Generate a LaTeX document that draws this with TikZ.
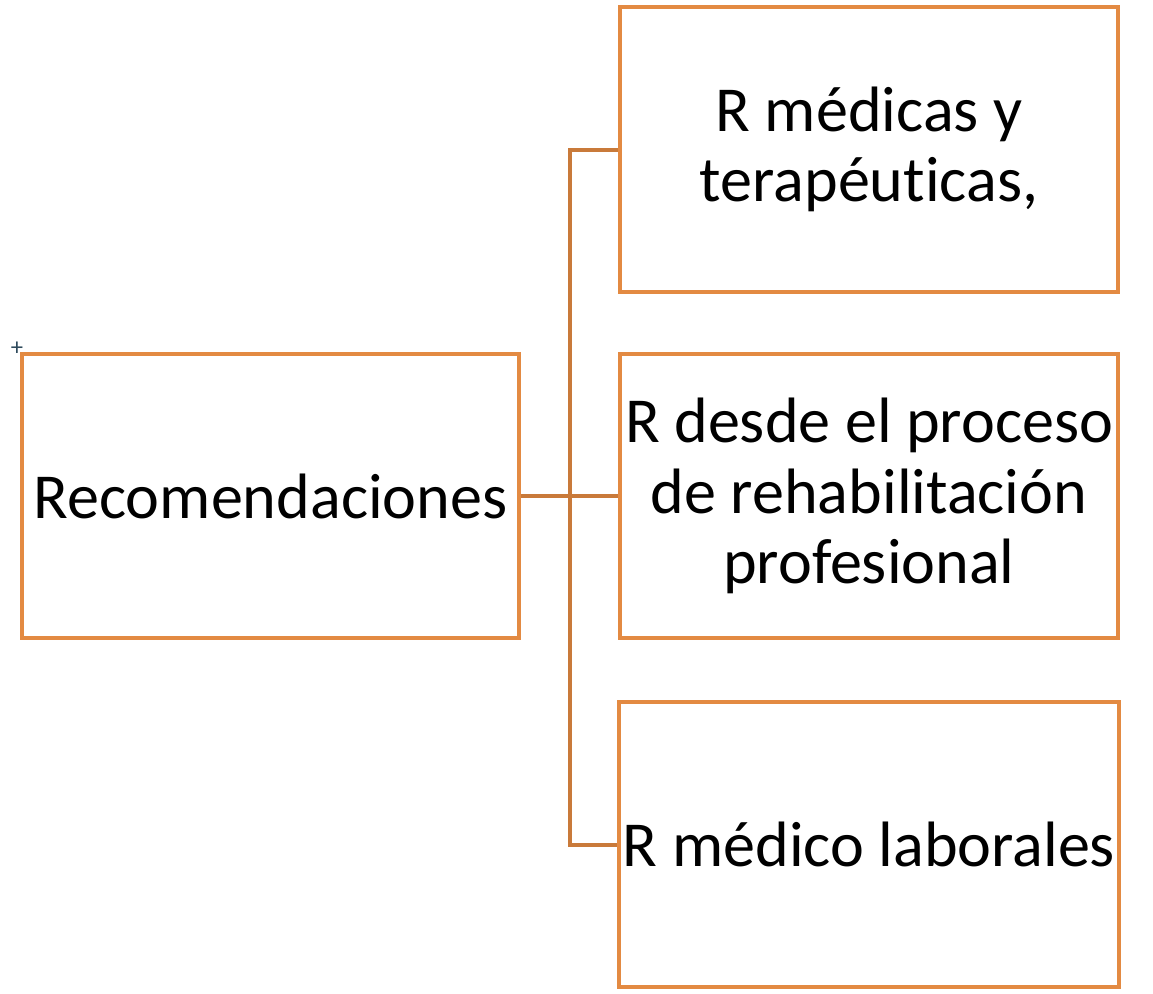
\documentclass[tikz,border=0pt]{standalone}
\usepackage{fontspec}
\setmainfont[RawFeature=-liga]{Carlito}
\usepackage{xcolor}
\usepackage{tikz}
\definecolor{boxorange}{HTML}{E38A42}
\definecolor{linkorange}{HTML}{C97A3A}
\definecolor{markslate}{HTML}{2E4A5C}

\begin{document}
\begin{tikzpicture}[x=0.02cm,y=-0.02cm,
    card/.style={rectangle, draw=boxorange, line width=0.08cm, fill=white,
                 minimum width=9.96cm, minimum height=5.7cm, inner sep=2pt,
                 align=center, font=\fontsize{36.5}{40}\selectfont},
    link/.style={draw=linkorange, line width=0.08cm}]

  % ---- the page, kept at the size of the reference ----
  \useasboundingbox (0,0) rectangle (1153,994);

  % ---- the root box on the left ----
  \node[card] (rec) at (270.5,496) {Recomendaciones};
  \node[text=markslate, font=\fontsize{14}{14}\selectfont, inner sep=0pt] (plus) at (17,349) {+};

  % ---- the three boxes on the right ----
  \node[card] (med) at (869,149.5) {R médicas y\\terapéuticas,};
  \node[card] (reh) at (869,496) {R desde el proceso\\de rehabilitación\\profesional};
  \node[card] (lab) at (869,844.5) {R médico laborales};

  % ---- the bracket that joins them ----
  \coordinate (jn) at (570,496);
  \draw[link] (rec.east) -- (jn);
  \draw[link] (jn) |- (med.west);
  \draw[link] (jn) -- (reh.west);
  \draw[link] (jn) |- (lab.west);
\end{tikzpicture}
\end{document}
